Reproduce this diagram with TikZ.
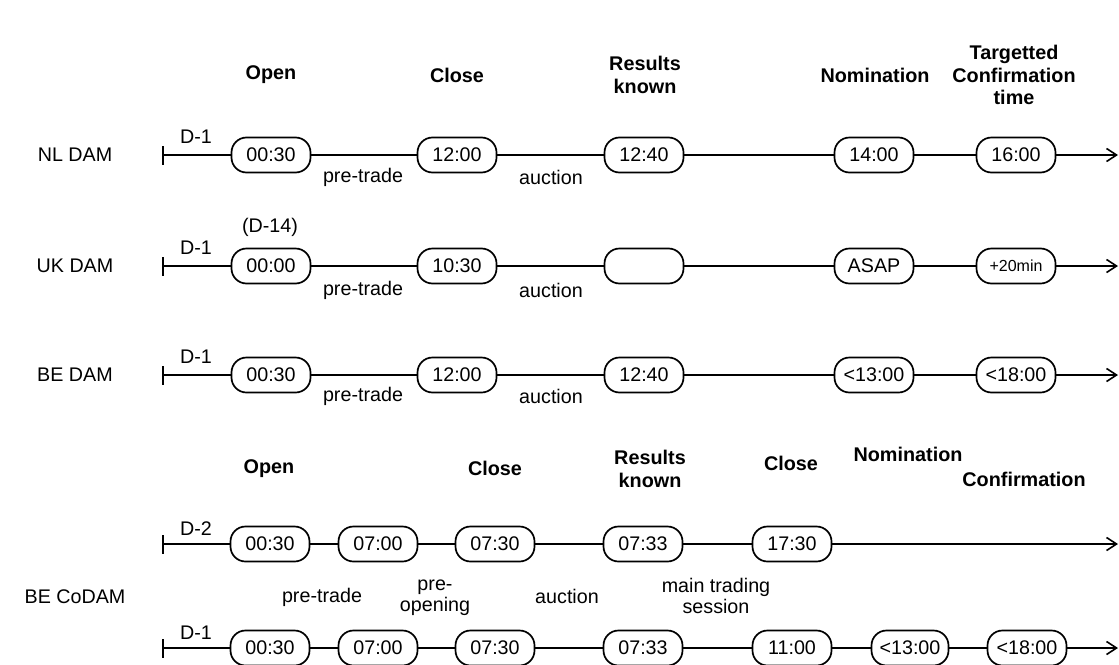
\documentclass[tikz,border=0pt]{standalone}
\usepackage{fontspec}
\setmainfont{Liberation Sans}
\usetikzlibrary{arrows.meta}
\begin{document}
\begin{tikzpicture}[x=1pt,y=-1pt, font=\fontsize{19.7}{22}\selectfont,
  tbox/.style={draw, line width=1.7pt, rounded corners=15pt, minimum width=79pt, minimum height=35pt, inner sep=0pt, fill=white},
  ln/.style={line width=1.6pt},
  tstart/.style={line width=1.6pt, {Bar[width=19pt,line width=1.6pt]}-},
  tend/.style={line width=1.6pt, -{Straight Barb[length=10pt,width=13pt,line width=1.6pt]}},
  hd/.style={font=\fontsize{19.8}{22.5}\selectfont\bfseries, align=center},
  lb/.style={align=center},
  ml/.style={align=center, font=\fontsize{19.7}{21}\selectfont}]
\path[use as bounding box] (0,0) rectangle (1119,664);

% headers top
\node[hd] (h1) at (271,75) {Open};
\node[hd] (h2) at (457,75) {Close};
\node[hd] (h3) at (645,75) {Results\\known};
\node[hd] (h4) at (875,75) {Nomination};
\node[hd] (h5) at (1014,75) {Targetted\\Confirmation\\time};

% row labels
\node[lb] (r1) at (75,155) {NL DAM};
\node[lb] (r2) at (75,266) {UK DAM};
\node[lb] (r3) at (75,375) {BE DAM};
\node[lb] (r4) at (75,597) {BE CoDAM};

% NL DAM
\coordinate (s1) at (162,155);
\coordinate (e1) at (1118,155);
\node[tbox] (a1) at (271,155) {00:30};
\node[tbox] (b1) at (457,155) {12:00};
\node[tbox] (c1) at (644,155) {12:40};
\node[tbox] (d1) at (874,155) {14:00};
\node[tbox] (f1) at (1016,155) {16:00};
\draw[tstart] (s1) -- (a1);
\draw[ln] (a1) -- (b1) (b1) -- (c1) (c1) -- (d1) (d1) -- (f1);
\draw[tend] (f1) -- (e1);
\node[lb] (D1) at (196,137) {D-1};
\node[lb] (p1) at (363,177) {pre-trade};
\node[lb] (q1) at (551,177) {auction};

% UK DAM
\coordinate (s2) at (162,266);
\coordinate (e2) at (1118,266);
\node[tbox] (a2) at (271,266) {00:00};
\node[tbox] (b2) at (457,266) {10:30};
\node[tbox] (c2) at (644,266) {};
\node[tbox] (d2) at (874,266) {ASAP};
\node[tbox, font=\fontsize{16}{18}\selectfont] (f2) at (1016,266) {+20min};
\draw[tstart] (s2) -- (a2);
\draw[ln] (a2) -- (b2) (b2) -- (c2) (c2) -- (d2) (d2) -- (f2);
\draw[tend] (f2) -- (e2);
\node[lb] (D2) at (196,248) {D-1};
\node[lb] (D14) at (270,227) {(D-14)};
\node[lb] (p2) at (363,290) {pre-trade};
\node[lb] (q2) at (551,290) {auction};

% BE DAM
\coordinate (s3) at (162,375);
\coordinate (e3) at (1118,375);
\node[tbox] (a3) at (271,375) {00:30};
\node[tbox] (b3) at (457,375) {12:00};
\node[tbox] (c3) at (644,375) {12:40};
\node[tbox] (d3) at (874,375) {<13:00};
\node[tbox] (f3) at (1016,375) {<18:00};
\draw[tstart] (s3) -- (a3);
\draw[ln] (a3) -- (b3) (b3) -- (c3) (c3) -- (d3) (d3) -- (f3);
\draw[tend] (f3) -- (e3);
\node[lb] (D3) at (196,357) {D-1};
\node[lb] (p3) at (363,396) {pre-trade};
\node[lb] (q3) at (551,396) {auction};

% headers CoDAM
\node[hd] (k1) at (269,469) {Open};
\node[hd] (k2) at (495,468) {Close};
\node[hd] (k3) at (650,469) {Results\\known};
\node[hd] (k4) at (791,463) {Close};
\node[hd] (k5) at (908,454) {Nomination};
\node[hd] (k6) at (1024,479) {Confirmation};

% CoDAM D-2
\coordinate (s4) at (162,544);
\coordinate (e4) at (1118,544);
\node[tbox] (a4) at (270,544) {00:30};
\node[tbox] (b4) at (378,544) {07:00};
\node[tbox] (c4) at (495,544) {07:30};
\node[tbox] (d4) at (643,544) {07:33};
\node[tbox] (f4) at (792,544) {17:30};
\draw[tstart] (s4) -- (a4);
\draw[ln] (a4) -- (b4) (b4) -- (c4) (c4) -- (d4) (d4) -- (f4);
\draw[tend] (f4) -- (e4);
\node[lb] (D4) at (196,529) {D-2};

% middle labels
\node[lb] (m1) at (322,597) {pre-trade};
\node[ml] (m2) at (435,598) {pre-\\opening};
\node[lb] (m3) at (567,596) {auction};
\node[ml] (m4) at (716,596) {main trading\\session};

% CoDAM D-1
\coordinate (s5) at (162,648);
\coordinate (e5) at (1118,648);
\node[tbox] (a5) at (270,648) {00:30};
\node[tbox] (b5) at (378,648) {07:00};
\node[tbox] (c5) at (495,648) {07:30};
\node[tbox] (d5) at (643,648) {07:33};
\node[tbox] (f5) at (792,648) {11:00};
\node[tbox, minimum width=77pt] (g5) at (910,648) {<13:00};
\node[tbox] (i5) at (1027,648) {<18:00};
\draw[tstart] (s5) -- (a5);
\draw[ln] (a5) -- (b5) (b5) -- (c5) (c5) -- (d5) (d5) -- (f5) (f5) -- (g5) (g5) -- (i5);
\draw[tend] (i5) -- (e5);
\node[lb] (D5) at (196,633) {D-1};
\end{tikzpicture}
\end{document}
